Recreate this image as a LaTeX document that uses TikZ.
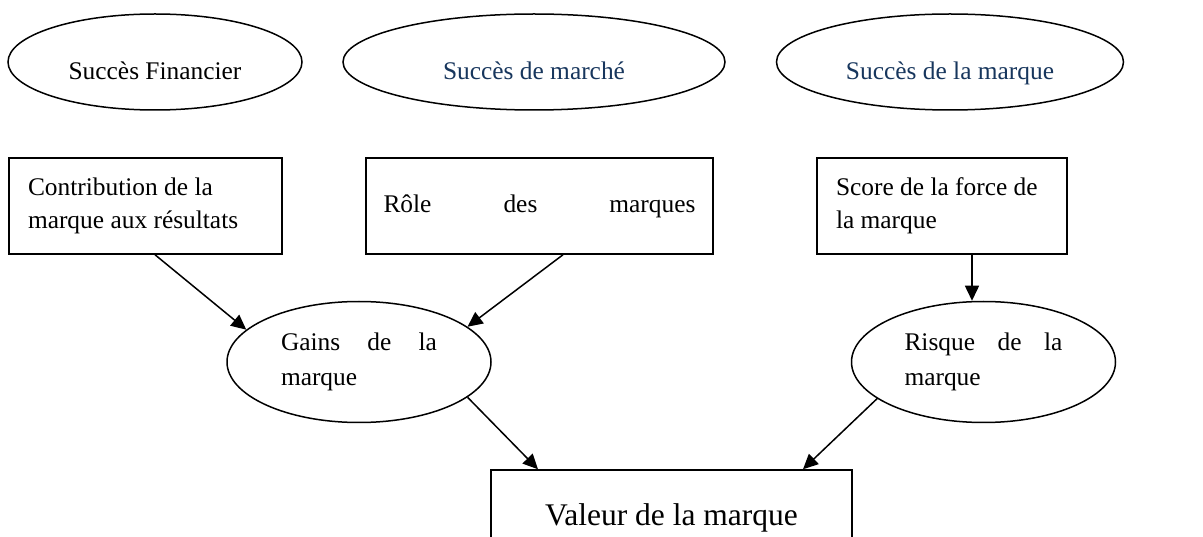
\documentclass[tikz,border=0pt]{standalone}
\usepackage{fontspec}
\setmainfont{Liberation Serif}
\usetikzlibrary{shapes.geometric,arrows.meta}
\definecolor{darkblue}{RGB}{23,54,93}
\begin{document}
\begin{tikzpicture}[x=1pt,y=-1pt,
  every node/.style={line width=1.5pt},
  topell/.style={draw,ellipse,inner sep=0pt,minimum height=96pt,
    font=\fontsize{25.4}{33}\selectfont,text height=36pt,text depth=0pt},
  boxnode/.style={draw,rectangle,minimum height=96pt,inner ysep=0pt,align=flush left,
    font=\fontsize{25.4}{33}\selectfont},
  midell/.style={draw,ellipse,inner sep=0pt,minimum width=264pt,minimum height=121pt,
    align=flush left,font=\fontsize{25.4}{35}\selectfont},
  arr/.style={line width=1.5pt,-{Triangle[length=15pt,width=14pt]}}
]
\clip (0,0) rectangle (1203,537);
\fill[white] (0,0) rectangle (1203,537);

\node[topell,minimum width=294pt] (e1) at (155,62) {Succès Financier};
\node[topell,minimum width=382pt,text=darkblue] (e2) at (534,62) {Succès de marché};
\node[topell,minimum width=347pt,text=darkblue] (e3) at (950,62) {Succès de la marque};

\node[boxnode,inner xsep=19pt,text width=235pt] (b1) at (145.5,206)
  {Contribution de la\\marque aux résultats};
\node[boxnode,inner xsep=17.5pt,text width=312pt,text height=19pt,text depth=5pt] (b2) at (539.5,206)
  {Rôle\hfill des\hfill marques};
\node[boxnode,inner xsep=19pt,text width=212pt] (b3) at (942,206)
  {Score de la force de\\la marque};

\node[midell,text width=156pt] (gains) at (359,362) {Gains\hfill de\hfill la\\marque};
\node[midell,text width=158pt] (risque) at (983.5,362) {Risque\hfill de\hfill la\\marque};

\node[draw,rectangle,minimum width=361pt,minimum height=96pt,inner sep=0pt,
  font=\fontsize{31.5}{38}\selectfont,text height=21pt,text depth=7pt] (val) at (671.5,518)
  {Valeur de la marque};

\draw[arr] ([xshift=9.5pt]b1.south) -- (gains.164);
\draw[arr] ([xshift=23.5pt]b2.south) -- (gains.18.7);
\draw[arr] ([xshift=30pt]b3.south) -- ([xshift=30pt]b3.south |- risque.north);
\draw[arr] (gains.-18.3) -- ([xshift=-133.5pt]val.north);
\draw[arr] (risque.199) -- ([xshift=131.5pt]val.north);
\end{tikzpicture}
\end{document}
